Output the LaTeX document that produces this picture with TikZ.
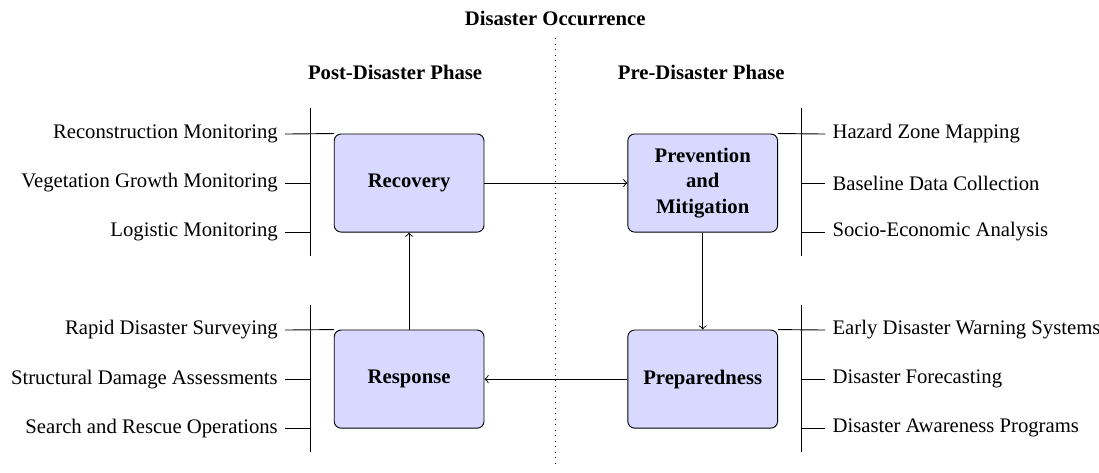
\documentclass[tikz,border=0pt]{standalone}
\usepackage{fontspec}
\setmainfont{Liberation Serif}
\begin{document}
\begin{tikzpicture}
	[font=\fontsize{9}{11}\selectfont,
	 phase/.style={draw, fill=blue!15, rounded corners=3pt, minimum width=2.29cm,
		minimum height=1.5cm, align=center, font=\fontsize{9}{11}\selectfont\bfseries},
	 task/.style={inner sep=3pt}]
	\useasboundingbox (0,0) rectangle (16.8,7.217);

	% disaster line and headings
	\node (occ) at (8.486,6.942) {\textbf{Disaster Occurrence}};
	\coordinate (occtop) at (8.486,6.636);
	\coordinate (occbot) at (8.486,0.061);
	\draw[dotted] (occtop) -- (occbot);
	\node (post) at (6.040,6.116) {\textbf{Post-Disaster Phase}};
	\node (pre) at (10.720,6.116) {\textbf{Pre-Disaster Phase}};

	% phases
	\node (recovery)[phase] at (6.254,4.419) {Recovery};
	\node (prevention)[phase] at (10.742,4.419) {Prevention\\ and\\ Mitigation};
	\node (response)[phase] at (6.254,1.422) {Response};
	\node (preparedness)[phase] at (10.742,1.422) {Preparedness};

	\draw[->] (recovery) -- (prevention);
	\draw[->] (prevention) -- (preparedness);
	\draw[->] (preparedness) -- (response);
	\draw[->] (response) -- (recovery);

	% post-disaster tasks
	\coordinate (lt1) at (4.740,5.566);
	\coordinate (lb1) at (4.740,3.303);
	\coordinate (lt2) at (4.740,2.554);
	\coordinate (lb2) at (4.740,0.306);
	\draw (lt1) -- (lb1);
	\draw (lt2) -- (lb2);
	\node (rm)[task, anchor=east] at (4.358,5.168) {Reconstruction Monitoring};
	\node (vg)[task, anchor=east] at (4.358,4.419) {Vegetation Growth Monitoring};
	\node (lm)[task, anchor=east] at (4.358,3.670) {Logistic Monitoring};
	\node (rd)[task, anchor=east] at (4.358,2.172) {Rapid Disaster Surveying};
	\node (sd)[task, anchor=east] at (4.358,1.422) {Structural Damage Assessments};
	\node (sr)[task, anchor=east] at (4.358,0.672) {Search and Rescue Operations};
	\draw (rm.east) -- (recovery.north west);
	\draw (vg.east) -- (vg.east -| lt1);
	\draw (lm.east) -- (lm.east -| lt1);
	\draw (rd.east) -- (response.north west);
	\draw (sd.east) -- (sd.east -| lt2);
	\draw (sr.east) -- (sr.east -| lt2);

	% pre-disaster tasks
	\coordinate (rt1) at (12.248,5.566);
	\coordinate (rb1) at (12.248,3.303);
	\coordinate (rt2) at (12.248,2.554);
	\coordinate (rb2) at (12.248,0.306);
	\draw (rt1) -- (rb1);
	\draw (rt2) -- (rb2);
	\node (hz)[task, anchor=west] at (12.615,5.168) {Hazard Zone Mapping};
	\node (bd)[task, anchor=west] at (12.615,4.419) {Baseline Data Collection};
	\node (se)[task, anchor=west] at (12.615,3.670) {Socio-Economic Analysis};
	\node (ew)[task, anchor=west] at (12.615,2.172) {Early Disaster Warning Systems};
	\node (df)[task, anchor=west] at (12.615,1.422) {Disaster Forecasting};
	\node (da)[task, anchor=west] at (12.615,0.672) {Disaster Awareness Programs};
	\draw (prevention.north east) -- (hz.west);
	\draw (bd.west -| rt1) -- (bd.west);
	\draw (se.west -| rt1) -- (se.west);
	\draw (preparedness.north east) -- (ew.west);
	\draw (df.west -| rt2) -- (df.west);
	\draw (da.west -| rt2) -- (da.west);
\end{tikzpicture}
\end{document}
